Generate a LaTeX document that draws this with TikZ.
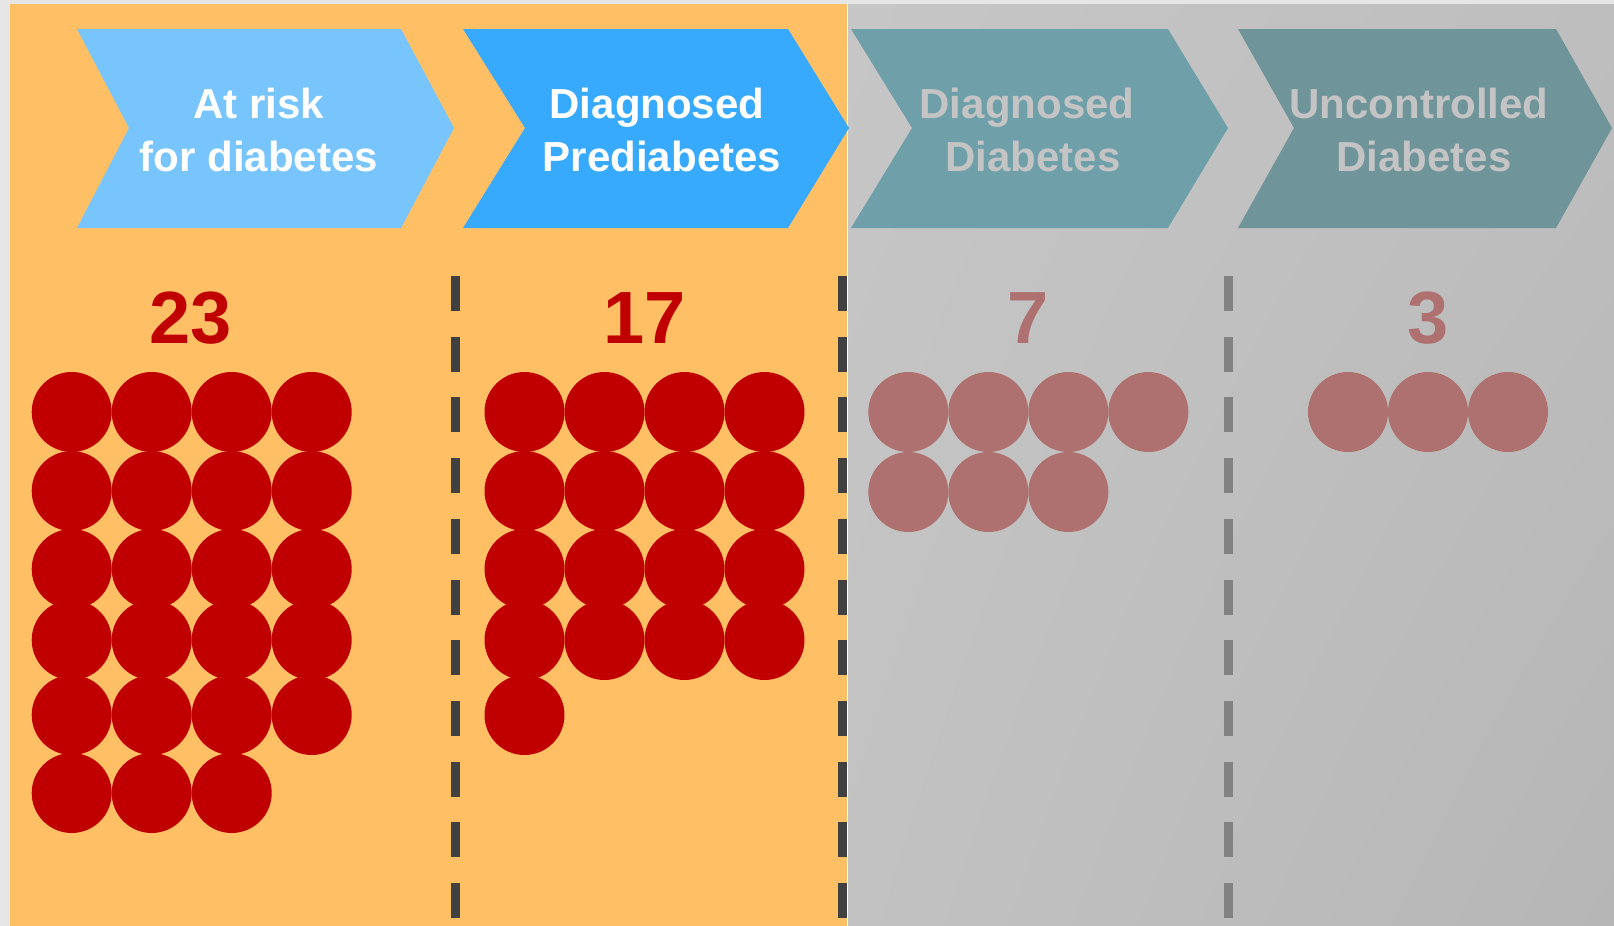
\documentclass[tikz,border=0pt]{standalone}
\usepackage{fontspec}
\setmainfont{Liberation Sans}
\usetikzlibrary{shadings}
\definecolor{orangebg}{RGB}{255,192,101}
\definecolor{lightblue}{RGB}{120,197,253}
\definecolor{midblue}{RGB}{56,170,253}
\definecolor{tealA}{RGB}{111,160,170}
\definecolor{tealB}{RGB}{111,148,154}
\definecolor{txtgray}{RGB}{196,196,196}
\definecolor{darkred}{RGB}{192,0,0}
\definecolor{fadedred}{RGB}{175,112,112}
\definecolor{dashdark}{RGB}{64,64,64}
\definecolor{dashgray}{RGB}{130,130,130}
\definecolor{marginbg}{RGB}{230,230,230}
\definecolor{grayUL}{RGB}{198,198,198}
\definecolor{grayUR}{RGB}{190,190,190}
\definecolor{grayLL}{RGB}{194,194,194}
\definecolor{grayLR}{RGB}{182,182,182}
\tikzset{
  chevtext/.style={anchor=base, inner sep=0pt, font=\fontsize{42}{50}\selectfont\bfseries},
  numtext/.style={anchor=base, inner sep=0pt, font=\fontsize{74}{80}\selectfont\bfseries},
  sepline/.style={line width=9pt, dash pattern=on 35pt off 25.7pt},
}
\begin{document}
\begin{tikzpicture}[x=1pt,y=-1pt]
\useasboundingbox (0,0) rectangle (1614,926);
% margins
\fill[marginbg] (0,0) rectangle (1614,926);
% panels
\fill[orangebg] (10,4) rectangle (847,926);
\shade[upper left=grayUL, upper right=grayUR, lower left=grayLL, lower right=grayLR]
  (848,4) rectangle (1614,926);
\fill[white] (847,4) rectangle (848,926);
% chevrons
\fill[lightblue] (77,29) -- (401,29) -- (454,128) -- (401,228) -- (77,228) -- (129,128) -- cycle;
\fill[midblue] (463,29) -- (788,29) -- (849,128) -- (788,228) -- (463,228) -- (525,128) -- cycle;
\fill[tealA] (851,29) -- (1168,29) -- (1228,128) -- (1168,228) -- (851,228) -- (912,128) -- cycle;
\fill[tealB] (1238,29) -- (1556,29) -- (1612,128) -- (1556,228) -- (1238,228) -- (1294,128) -- cycle;
% chevron labels
\node[chevtext, text=white] (l1a) at (259,118) {At risk};
\node[chevtext, text=white] (l1b) at (259,171) {for diabetes};
\node[chevtext, text=white] (l2a) at (657,118) {Diagnosed};
\node[chevtext, text=white] (l2b) at (662,171) {Prediabetes};
\node[chevtext, text=txtgray] (l3a) at (1027,118) {Diagnosed};
\node[chevtext, text=txtgray] (l3b) at (1033,171) {Diabetes};
\node[chevtext, text=txtgray] (l4a) at (1419,118) {Uncontrolled};
\node[chevtext, text=txtgray] (l4b) at (1424,171) {Diabetes};
% separators
\draw[sepline, dashdark] (455,276) -- (455,918);
\draw[sepline, dashdark] (842,276) -- (842,918);
\draw[sepline, dashgray] (1228,276) -- (1228,918);
% counts
\node[numtext, text=darkred] (n1) at (191,343) {23};
\node[numtext, text=darkred] (n2) at (645,343) {17};
\node[numtext, text=fadedred] (n3) at (1028,343) {7};
\node[numtext, text=fadedred] (n4) at (1428,343) {3};
% dots group 1 (23)
\foreach \y/\n in {412/4,491/4,569/4,640/4,715/4,793/3}{
  \foreach \i in {1,...,\n}{
    \fill[darkred] ({71.7+80*(\i-1)},\y) circle[radius=40];
  }
}
% dots group 2 (17)
\foreach \y/\n in {412/4,491/4,569/4,640/4,715/1}{
  \foreach \i in {1,...,\n}{
    \fill[darkred] ({524.5+80*(\i-1)},\y) circle[radius=40];
  }
}
% dots group 3 (7)
\foreach \y/\n in {412/4,492/3}{
  \foreach \i in {1,...,\n}{
    \fill[fadedred] ({908.3+80*(\i-1)},\y) circle[radius=40];
  }
}
% dots group 4 (3)
\foreach \i in {1,2,3}{
  \fill[fadedred] ({1348+80*(\i-1)},412) circle[radius=40];
}
\end{tikzpicture}
\end{document}
